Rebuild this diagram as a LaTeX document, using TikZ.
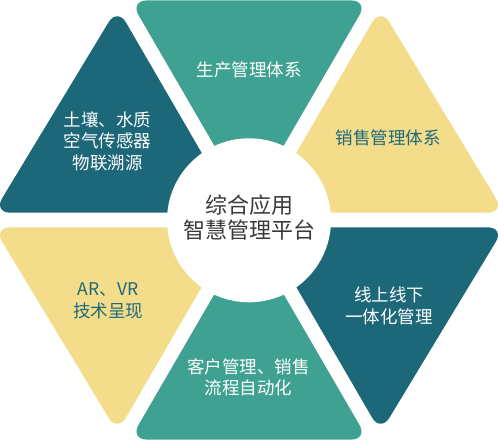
\documentclass[tikz,border=0pt]{standalone}
\usepackage{fontspec}
\newfontfamily\cjk{Noto Sans CJK SC}
\definecolor{darkteal}{HTML}{1C6778}
\definecolor{tealmid}{HTML}{3FA191}
\definecolor{sand}{HTML}{F3DC8A}
\definecolor{labelblue}{HTML}{1E6A7C}
\definecolor{centergray}{HTML}{3A3A3A}
\begin{document}
\begin{tikzpicture}[x=1pt,y=-1pt,
  tri/.style={rounded corners=17pt},
  lbl/.style={align=center,font=\cjk\fontsize{17.5}{21.5}\selectfont,inner sep=0pt},
  lblw/.style={lbl,text=white},
  lbld/.style={lbl,text=labelblue},
  ctr/.style={align=center,font=\cjk\fontsize{22}{25}\selectfont,text=centergray,inner sep=0pt}]
\useasboundingbox (0,0) rectangle (498,441);
\begin{scope}[shift={(249,220)}]
  % top
  \fill[tealmid,tri] (0,-14.6) -- (-119,-219.6) -- (119,-219.6) -- cycle;
  % top-left
  \fill[darkteal,tri] (-12.6,-7.3) -- (-255.6,-7.3) -- (-131.6,-212.3) -- cycle;
  % bottom-left
  \fill[sand,tri] (-12.6,7.3) -- (-255.6,7.3) -- (-131.6,212.3) -- cycle;
  % bottom
  \fill[tealmid,tri] (0,14.6) -- (-119,219.6) -- (119,219.6) -- cycle;
  % bottom-right
  \fill[darkteal,tri] (12.6,7.3) -- (255.6,7.3) -- (131.6,212.3) -- cycle;
  % top-right
  \fill[sand,tri] (12.6,-7.3) -- (255.6,-7.3) -- (131.6,-212.3) -- cycle;
  % centre disc
  \fill[white] (0,0.3) circle[radius=82pt];
\end{scope}
\node[ctr] (c) at (249,218) {综合应用\\智慧管理平台};
\node[lblw] (t) at (249,70) {生产管理体系};
\node[lbld] (tr) at (388,138) {销售管理体系};
\node[lblw] (tl) at (107.5,141) {土壤、水质\\空气传感器\\物联溯源};
\node[lbld] (bl) at (108,301) {AR、VR\\技术呈现};
\node[lblw] (b) at (248.5,377.5) {客户管理、销售\\流程自动化};
\node[lblw] (br) at (389,306) {线上线下\\一体化管理};
\end{tikzpicture}
\end{document}
